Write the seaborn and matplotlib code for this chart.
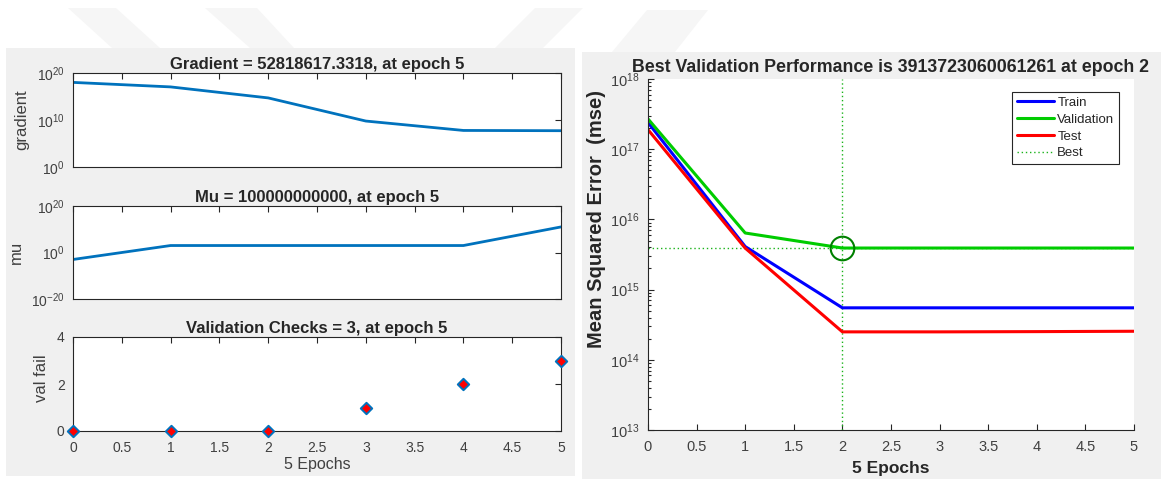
import numpy as np
import pandas as pd
import matplotlib
matplotlib.use('Agg')
import matplotlib.pyplot as plt
import seaborn as sns
from matplotlib.patches import Rectangle, Polygon
from matplotlib.ticker import (FixedLocator, NullLocator, LogLocator,
                               LogFormatterMathtext, FuncFormatter, NullFormatter)

# Training record
epochs = [0, 1, 2, 3, 4, 5]
gradient = [1.0e18, 1.1e17, 5.0e14, 6.0e9, 6.0e7, 5.28e7]
mu = [1e-3, 1e3, 1e3, 1e3, 1e3, 1e11]
val_fail = [0, 0, 0, 1, 2, 3]
train_mse = [2.4e17, 4.1e15, 5.5e14, 5.5e14, 5.5e14, 5.5e14]
valid_mse = [2.7e17, 6.4e15, 3.91e15, 3.91e15, 3.91e15, 3.91e15]
test_mse = [1.9e17, 3.9e15, 2.5e14, 2.5e14, 2.52e14, 2.55e14]
best_epoch = 2
best_perf = 3913723060061261

df = pd.DataFrame({'epoch': epochs, 'gradient': gradient, 'mu': mu,
                   'val_fail': val_fail, 'train': train_mse,
                   'validation': valid_mse, 'test': test_mse})

sns.set_style('white')
plt.rcParams['font.family'] = ['Liberation Sans', 'DejaVu Sans']
plt.rcParams['mathtext.fontset'] = 'custom'
plt.rcParams['mathtext.rm'] = 'Liberation Sans'

W, H = 1161, 479
fig = plt.figure(figsize=(W / 100, H / 100), dpi=100)
fig.patch.set_facecolor('white')

def px(x, y):
    return (x / W, 1 - y / H)

def add_ax(l, t, r, b):
    return fig.add_axes([l / W, 1 - b / H, (r - l) / W, (b - t) / H])

# faint watermark shapes and grey panels
for pts in [[(68, 8), (116, 8), (160, 48), (112, 48)],
            [(205, 8), (257, 8), (294, 48), (250, 48)],
            [(535, 8), (583, 8), (543, 48), (495, 48)],
            [(647, 10), (708, 10), (675, 52), (612, 52)]]:
    fig.add_artist(Polygon([px(*p) for p in pts], closed=True, transform=fig.transFigure,
                           facecolor='#f6f6f6', edgecolor='none', zorder=-3))
fig.add_artist(Rectangle(px(6, 476), 569 / W, 428 / H, transform=fig.transFigure,
                         facecolor='#f0f0f0', edgecolor='none', zorder=-1))
fig.add_artist(Rectangle(px(582, 479), 579 / W, 427 / H, transform=fig.transFigure,
                         facecolor='#f0f0f0', edgecolor='none', zorder=-1))

spine_c = '#262626'
label_c = '#404040'
mblue = '#0072BD'
xt = np.arange(0, 5.01, 0.5)
fmt_g = FuncFormatter(lambda v, p: f'{v:g}')

def matlab_box(ax):
    ax.set_facecolor('white')
    for s in ax.spines.values():
        s.set_visible(True)
        s.set_color(spine_c)
        s.set_linewidth(0.8)
    ax.tick_params(which='both', direction='in', top=True, right=True, length=4,
                   width=0.8, color=spine_c, labelcolor=label_c, labelsize=10)
    ax.tick_params(axis='x', pad=7)
    ax.tick_params(axis='y', pad=6)
    ax.set_xlim(0, 5)
    ax.xaxis.set_major_locator(FixedLocator(xt))
    ax.xaxis.set_major_formatter(fmt_g)
    ax.set_xlabel('')

# Gradient
ax_g = add_ax(73, 73, 561, 167)
sns.lineplot(data=df, x='epoch', y='gradient', color=mblue, lw=2, ax=ax_g)
ax_g.set_yscale('log')
ax_g.set_ylim(1e0, 1e20)
matlab_box(ax_g)
ax_g.yaxis.set_major_locator(FixedLocator([1e0, 1e10, 1e20]))
ax_g.yaxis.set_minor_locator(NullLocator())
ax_g.yaxis.set_major_formatter(LogFormatterMathtext())
ax_g.tick_params(labelbottom=False)
ax_g.set_ylabel('gradient', fontsize=12, color=label_c, labelpad=5)
ax_g.set_title('Gradient = 52818617.3318, at epoch 5', fontsize=12,
               fontweight='bold', pad=3)

# Mu
ax_m = add_ax(73, 206, 561, 299)
sns.lineplot(data=df, x='epoch', y='mu', color=mblue, lw=2, ax=ax_m)
ax_m.set_yscale('log')
ax_m.set_ylim(1e-20, 1e20)
matlab_box(ax_m)
ax_m.yaxis.set_major_locator(FixedLocator([1e-20, 1e0, 1e20]))
ax_m.yaxis.set_minor_locator(NullLocator())
ax_m.yaxis.set_major_formatter(LogFormatterMathtext())
ax_m.tick_params(labelbottom=False)
ax_m.set_ylabel('mu', fontsize=12, color=label_c, labelpad=5)
ax_m.set_title('Mu = 100000000000, at epoch 5', fontsize=12,
               fontweight='bold', pad=3)

# Validation checks
ax_v = add_ax(73, 337, 561, 431)
sns.scatterplot(data=df, x='epoch', y='val_fail', marker='D', s=34, color='red',
                edgecolor=mblue, linewidth=1.4, clip_on=False, zorder=5, ax=ax_v)
matlab_box(ax_v)
ax_v.set_ylim(0, 4)
ax_v.yaxis.set_major_locator(FixedLocator([0, 2, 4]))
ax_v.yaxis.set_major_formatter(fmt_g)
ax_v.set_ylabel('val fail', fontsize=12, color=label_c)
ax_v.yaxis.set_label_coords(-(73 - 49) / 488, 0.56)
ax_v.set_xlabel('5 Epochs', fontsize=11.5, color=label_c, labelpad=2)
ax_v.set_title('Validation Checks = 3, at epoch 5', fontsize=12,
               fontweight='bold', pad=3)

# Performance
green = (0, 0.8, 0)
ax_p = add_ax(648, 79, 1134, 430)
sns.lineplot(data=df, x='epoch', y='train', color='blue', lw=2.2, ax=ax_p, label='Train')
sns.lineplot(data=df, x='epoch', y='validation', color=green, lw=2.2, ax=ax_p, label='Validation')
sns.lineplot(data=df, x='epoch', y='test', color='red', lw=2.2, ax=ax_p, label='Test')
ax_p.axvline(best_epoch, color=(0.1, 0.7, 0.1), lw=1, ls=(0, (1, 2)), label='Best', zorder=1)
ax_p.axhline(best_perf, color=(0.1, 0.7, 0.1), lw=1, ls=(0, (1, 2)), zorder=1)
ax_p.plot([best_epoch], [best_perf], 'o', ms=17, mfc='none', mec=(0, 0.5, 0), mew=1.5)
ax_p.set_yscale('log')
ax_p.set_ylim(1e13, 1e18)
ax_p.set_xlim(0, 5)
ax_p.set_facecolor('white')
for k in ['top', 'right']:
    ax_p.spines[k].set_visible(False)
for k in ['left', 'bottom']:
    ax_p.spines[k].set_visible(True)
    ax_p.spines[k].set_color(spine_c)
    ax_p.spines[k].set_linewidth(0.8)
ax_p.xaxis.set_major_locator(FixedLocator(xt))
ax_p.xaxis.set_major_formatter(fmt_g)
ax_p.yaxis.set_major_locator(LogLocator(base=10, numticks=10))
ax_p.yaxis.set_minor_locator(LogLocator(base=10, subs=np.arange(2, 10), numticks=20))
ax_p.yaxis.set_minor_formatter(NullFormatter())
ax_p.yaxis.set_major_formatter(LogFormatterMathtext())
ax_p.tick_params(which='both', direction='in', left=True, bottom=True, top=False, right=False,
                 color=spine_c, labelcolor=label_c, labelsize=10.5, width=0.8)
ax_p.tick_params(which='major', length=4)
ax_p.tick_params(which='minor', length=2)
ax_p.tick_params(axis='x', pad=7)
ax_p.tick_params(axis='y', pad=6)
ax_p.set_xlabel('5 Epochs', fontsize=12.5, fontweight='bold', color=spine_c, labelpad=5)
ax_p.set_ylabel('Mean Squared Error  (mse)', fontsize=14.5, fontweight='bold',
                color=spine_c)
ax_p.yaxis.set_label_coords(-(648 - 606) / 486, 0.60)
ax_p.set_title('Best Validation Performance is 3913723060061261 at epoch 2',
               fontsize=12.8, fontweight='bold', pad=5)
handles, labels = ax_p.get_legend_handles_labels()
leg = ax_p.legend(handles, labels, loc='upper right', bbox_to_anchor=px(1119, 92),
                  bbox_transform=fig.transFigure, borderaxespad=0, fontsize=9.5,
                  fancybox=False, framealpha=1, edgecolor=spine_c, handlelength=2.8,
                  handletextpad=0.25, labelspacing=0.35, borderpad=0.35)
leg.get_frame().set_linewidth(0.8)
for t in leg.get_texts():
    t.set_color(spine_c)

fig.savefig('out.png', dpi=100)
